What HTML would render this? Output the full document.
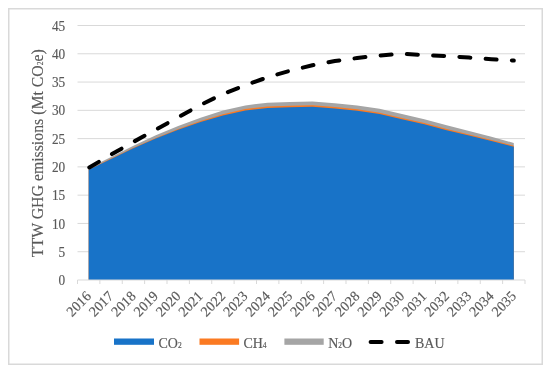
<!DOCTYPE html>
<html><head><meta charset="utf-8"><style>
html,body{margin:0;padding:0;background:#fff;}
svg{display:block;will-change:transform;}
.t{font-family:"Liberation Serif",serif;fill:#595959;stroke:#595959;stroke-width:0.15px;}
</style></head><body>
<svg width="550" height="371" viewBox="0 0 550 371">
<rect x="8.75" y="8.75" width="533.5" height="355.5" fill="#fff" stroke="#d9d9d9" stroke-width="1.5"/>
<line x1="77.5" y1="251.72" x2="525.0" y2="251.72" stroke="#d9d9d9" stroke-width="1"/>
<line x1="77.5" y1="223.44" x2="525.0" y2="223.44" stroke="#d9d9d9" stroke-width="1"/>
<line x1="77.5" y1="195.17" x2="525.0" y2="195.17" stroke="#d9d9d9" stroke-width="1"/>
<line x1="77.5" y1="166.89" x2="525.0" y2="166.89" stroke="#d9d9d9" stroke-width="1"/>
<line x1="77.5" y1="138.61" x2="525.0" y2="138.61" stroke="#d9d9d9" stroke-width="1"/>
<line x1="77.5" y1="110.33" x2="525.0" y2="110.33" stroke="#d9d9d9" stroke-width="1"/>
<line x1="77.5" y1="82.06" x2="525.0" y2="82.06" stroke="#d9d9d9" stroke-width="1"/>
<line x1="77.5" y1="53.78" x2="525.0" y2="53.78" stroke="#d9d9d9" stroke-width="1"/>
<line x1="77.5" y1="25.50" x2="525.0" y2="25.50" stroke="#d9d9d9" stroke-width="1"/>
<path d="M88.69,168.02 L111.06,156.99 L133.44,145.79 L155.81,135.22 L178.19,125.94 L200.56,117.69 L222.94,110.62 L245.31,105.41 L267.69,102.70 L290.06,101.96 L312.44,101.57 L334.81,103.26 L357.19,105.47 L379.56,108.86 L401.94,113.95 L424.31,119.21 L446.69,125.32 L469.06,130.98 L491.44,136.80 L513.81,142.97 L513.81,280.00 L491.44,280.00 L469.06,280.00 L446.69,280.00 L424.31,280.00 L401.94,280.00 L379.56,280.00 L357.19,280.00 L334.81,280.00 L312.44,280.00 L290.06,280.00 L267.69,280.00 L245.31,280.00 L222.94,280.00 L200.56,280.00 L178.19,280.00 L155.81,280.00 L133.44,280.00 L111.06,280.00 L88.69,280.00 Z" fill="#a5a5a5"/>
<path d="M88.69,169.43 L111.06,158.58 L133.44,147.77 L155.81,137.88 L178.19,128.88 L200.56,121.02 L222.94,114.18 L245.31,109.03 L267.69,106.49 L290.06,105.75 L312.44,105.36 L334.81,107.11 L357.19,109.37 L379.56,112.82 L401.94,117.97 L424.31,122.95 L446.69,129.00 L469.06,134.54 L491.44,140.03 L513.81,145.68 L513.81,280.00 L491.44,280.00 L469.06,280.00 L446.69,280.00 L424.31,280.00 L401.94,280.00 L379.56,280.00 L357.19,280.00 L334.81,280.00 L312.44,280.00 L290.06,280.00 L267.69,280.00 L245.31,280.00 L222.94,280.00 L200.56,280.00 L178.19,280.00 L155.81,280.00 L133.44,280.00 L111.06,280.00 L88.69,280.00 Z" fill="#fb7a22"/>
<path d="M88.69,169.72 L111.06,158.97 L133.44,148.34 L155.81,138.61 L178.19,129.79 L200.56,122.10 L222.94,115.42 L245.31,110.39 L267.69,107.90 L290.06,107.22 L312.44,106.83 L334.81,108.52 L357.19,110.73 L379.56,114.12 L401.94,119.21 L424.31,124.13 L446.69,130.13 L469.06,135.61 L491.44,141.04 L513.81,146.64 L513.81,280.00 L491.44,280.00 L469.06,280.00 L446.69,280.00 L424.31,280.00 L401.94,280.00 L379.56,280.00 L357.19,280.00 L334.81,280.00 L312.44,280.00 L290.06,280.00 L267.69,280.00 L245.31,280.00 L222.94,280.00 L200.56,280.00 L178.19,280.00 L155.81,280.00 L133.44,280.00 L111.06,280.00 L88.69,280.00 Z" fill="#1873c8"/>
<line x1="77.5" y1="280.0" x2="525.0" y2="280.0" stroke="#d9d9d9" stroke-width="1"/>
<line x1="77.50" y1="280.0" x2="77.50" y2="284.0" stroke="#d9d9d9" stroke-width="1"/>
<line x1="99.88" y1="280.0" x2="99.88" y2="284.0" stroke="#d9d9d9" stroke-width="1"/>
<line x1="122.25" y1="280.0" x2="122.25" y2="284.0" stroke="#d9d9d9" stroke-width="1"/>
<line x1="144.62" y1="280.0" x2="144.62" y2="284.0" stroke="#d9d9d9" stroke-width="1"/>
<line x1="167.00" y1="280.0" x2="167.00" y2="284.0" stroke="#d9d9d9" stroke-width="1"/>
<line x1="189.38" y1="280.0" x2="189.38" y2="284.0" stroke="#d9d9d9" stroke-width="1"/>
<line x1="211.75" y1="280.0" x2="211.75" y2="284.0" stroke="#d9d9d9" stroke-width="1"/>
<line x1="234.12" y1="280.0" x2="234.12" y2="284.0" stroke="#d9d9d9" stroke-width="1"/>
<line x1="256.50" y1="280.0" x2="256.50" y2="284.0" stroke="#d9d9d9" stroke-width="1"/>
<line x1="278.88" y1="280.0" x2="278.88" y2="284.0" stroke="#d9d9d9" stroke-width="1"/>
<line x1="301.25" y1="280.0" x2="301.25" y2="284.0" stroke="#d9d9d9" stroke-width="1"/>
<line x1="323.62" y1="280.0" x2="323.62" y2="284.0" stroke="#d9d9d9" stroke-width="1"/>
<line x1="346.00" y1="280.0" x2="346.00" y2="284.0" stroke="#d9d9d9" stroke-width="1"/>
<line x1="368.38" y1="280.0" x2="368.38" y2="284.0" stroke="#d9d9d9" stroke-width="1"/>
<line x1="390.75" y1="280.0" x2="390.75" y2="284.0" stroke="#d9d9d9" stroke-width="1"/>
<line x1="413.12" y1="280.0" x2="413.12" y2="284.0" stroke="#d9d9d9" stroke-width="1"/>
<line x1="435.50" y1="280.0" x2="435.50" y2="284.0" stroke="#d9d9d9" stroke-width="1"/>
<line x1="457.88" y1="280.0" x2="457.88" y2="284.0" stroke="#d9d9d9" stroke-width="1"/>
<line x1="480.25" y1="280.0" x2="480.25" y2="284.0" stroke="#d9d9d9" stroke-width="1"/>
<line x1="502.62" y1="280.0" x2="502.62" y2="284.0" stroke="#d9d9d9" stroke-width="1"/>
<line x1="525.00" y1="280.0" x2="525.00" y2="284.0" stroke="#d9d9d9" stroke-width="1"/>
<path d="M88.69,167.79 L111.06,154.62 L133.44,141.89 L155.81,129.68 L178.19,117.29 L200.56,104.85 L222.94,94.05 L245.31,85.17 L267.69,77.25 L290.06,70.74 L312.44,65.26 L334.81,61.02 L357.19,58.02 L379.56,55.47 L401.94,53.78 L424.31,55.02 L446.69,56.04 L469.06,57.57 L491.44,59.21 L513.81,60.56" fill="none" stroke="#000" stroke-width="4" stroke-linecap="round" stroke-linejoin="round" stroke-dasharray="11 15.3" stroke-dashoffset="-0.7"/>
<text class="t" style="font-size:13.3px" text-anchor="end" transform="translate(65.2 280.20) scale(1 1.08)" y="4.50">0</text>
<text class="t" style="font-size:13.3px" text-anchor="end" transform="translate(65.2 251.92) scale(1 1.08)" y="4.50">5</text>
<text class="t" style="font-size:13.3px" text-anchor="end" transform="translate(65.2 223.64) scale(1 1.08)" y="4.50">10</text>
<text class="t" style="font-size:13.3px" text-anchor="end" transform="translate(65.2 195.37) scale(1 1.08)" y="4.50">15</text>
<text class="t" style="font-size:13.3px" text-anchor="end" transform="translate(65.2 167.09) scale(1 1.08)" y="4.50">20</text>
<text class="t" style="font-size:13.3px" text-anchor="end" transform="translate(65.2 138.81) scale(1 1.08)" y="4.50">25</text>
<text class="t" style="font-size:13.3px" text-anchor="end" transform="translate(65.2 110.53) scale(1 1.08)" y="4.50">30</text>
<text class="t" style="font-size:13.3px" text-anchor="end" transform="translate(65.2 82.26) scale(1 1.08)" y="4.50">35</text>
<text class="t" style="font-size:13.3px" text-anchor="end" transform="translate(65.2 53.98) scale(1 1.08)" y="4.50">40</text>
<text class="t" style="font-size:13.3px" text-anchor="end" transform="translate(65.2 25.70) scale(1 1.08)" y="4.50">45</text>
<text class="t" style="font-size:14.0px" text-anchor="end" transform="translate(91.89 297.00) scale(1 1.03) rotate(-45)">2016</text>
<text class="t" style="font-size:14.0px" text-anchor="end" transform="translate(114.26 297.00) scale(1 1.03) rotate(-45)">2017</text>
<text class="t" style="font-size:14.0px" text-anchor="end" transform="translate(136.64 297.00) scale(1 1.03) rotate(-45)">2018</text>
<text class="t" style="font-size:14.0px" text-anchor="end" transform="translate(159.01 297.00) scale(1 1.03) rotate(-45)">2019</text>
<text class="t" style="font-size:14.0px" text-anchor="end" transform="translate(181.39 297.00) scale(1 1.03) rotate(-45)">2020</text>
<text class="t" style="font-size:14.0px" text-anchor="end" transform="translate(203.76 297.00) scale(1 1.03) rotate(-45)">2021</text>
<text class="t" style="font-size:14.0px" text-anchor="end" transform="translate(226.14 297.00) scale(1 1.03) rotate(-45)">2022</text>
<text class="t" style="font-size:14.0px" text-anchor="end" transform="translate(248.51 297.00) scale(1 1.03) rotate(-45)">2023</text>
<text class="t" style="font-size:14.0px" text-anchor="end" transform="translate(270.89 297.00) scale(1 1.03) rotate(-45)">2024</text>
<text class="t" style="font-size:14.0px" text-anchor="end" transform="translate(293.26 297.00) scale(1 1.03) rotate(-45)">2025</text>
<text class="t" style="font-size:14.0px" text-anchor="end" transform="translate(315.64 297.00) scale(1 1.03) rotate(-45)">2026</text>
<text class="t" style="font-size:14.0px" text-anchor="end" transform="translate(338.01 297.00) scale(1 1.03) rotate(-45)">2027</text>
<text class="t" style="font-size:14.0px" text-anchor="end" transform="translate(360.39 297.00) scale(1 1.03) rotate(-45)">2028</text>
<text class="t" style="font-size:14.0px" text-anchor="end" transform="translate(382.76 297.00) scale(1 1.03) rotate(-45)">2029</text>
<text class="t" style="font-size:14.0px" text-anchor="end" transform="translate(405.14 297.00) scale(1 1.03) rotate(-45)">2030</text>
<text class="t" style="font-size:14.0px" text-anchor="end" transform="translate(427.51 297.00) scale(1 1.03) rotate(-45)">2031</text>
<text class="t" style="font-size:14.0px" text-anchor="end" transform="translate(449.89 297.00) scale(1 1.03) rotate(-45)">2032</text>
<text class="t" style="font-size:14.0px" text-anchor="end" transform="translate(472.26 297.00) scale(1 1.03) rotate(-45)">2033</text>
<text class="t" style="font-size:14.0px" text-anchor="end" transform="translate(494.64 297.00) scale(1 1.03) rotate(-45)">2034</text>
<text class="t" style="font-size:14.0px" text-anchor="end" transform="translate(517.01 297.00) scale(1 1.03) rotate(-45)">2035</text>
<text class="t" style="font-size:15.8px" text-anchor="middle" transform="translate(43.1 153.2) rotate(-90)">TTW GHG emissions (Mt CO<tspan style="font-size:7.5px">2</tspan>e)</text>
<rect x="114" y="338.5" width="40" height="6.3" fill="#1873c8"/>
<text class="t" style="font-size:14.0px" transform="translate(158.5 348.0) scale(1 1.1)">CO<tspan style="font-size:7.5px">2</tspan></text>
<rect x="199.5" y="338.5" width="39.6" height="6.3" fill="#fb7a22"/>
<text class="t" style="font-size:14.0px" transform="translate(243.4 348.0) scale(1 1.1)">CH<tspan style="font-size:7.5px">4</tspan></text>
<rect x="284.4" y="338.5" width="39.3" height="6.3" fill="#a5a5a5"/>
<text class="t" style="font-size:14.0px" transform="translate(328.2 348.0) scale(1 1.1)">N<tspan style="font-size:7.5px">2</tspan>O</text>
<line x1="370.6" y1="342" x2="410" y2="342" stroke="#000" stroke-width="4" stroke-linecap="round" stroke-dasharray="11 15.4"/>
<text class="t" style="font-size:14.0px" transform="translate(415 348.0) scale(1 1.1)">BAU</text>
</svg>
</body></html>
